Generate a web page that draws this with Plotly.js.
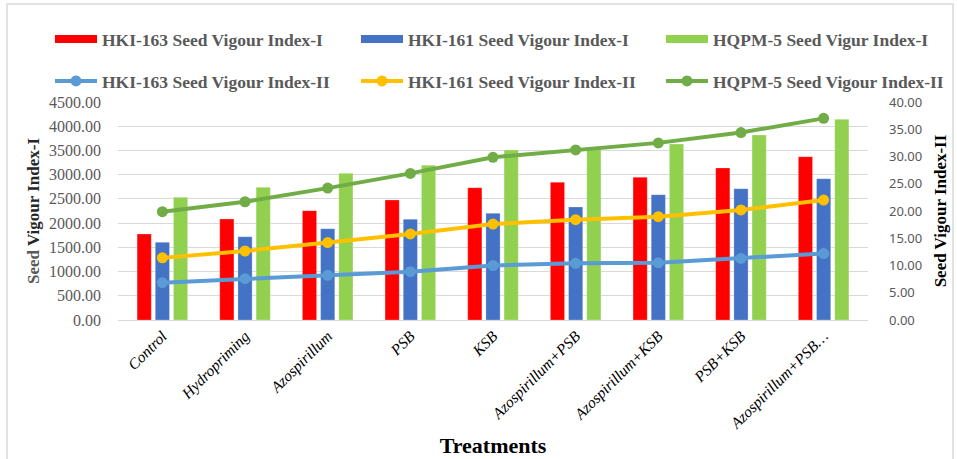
<!DOCTYPE html>
<html>
<head>
<meta charset="utf-8">
<script src="https://cdn.plot.ly/plotly-3.0.1.min.js"></script>
<style>html,body{margin:0;padding:0;background:#fff;}#chart{width:957px;height:459px;}</style>
</head>
<body>
<div id="chart"></div>
<script>
const treatments = ["Control","Hydropriming","Azospirillum","PSB","KSB","Azospirillum+PSB","Azospirillum+KSB","PSB+KSB","Azospirillum+PSB…"];
const hki163_I = [1775,2085,2257,2477,2731,2843,2946,3138,3371];
const hki161_I = [1604,1720,1885,2079,2202,2333,2587,2711,2917];
const hqpm5_I  = [2533,2740,3028,3194,3510,3545,3633,3819,4143];
const hki163_II = [6.85,7.58,8.2,8.87,10.0,10.4,10.5,11.3,12.2];
const hki161_II = [11.4,12.66,14.2,15.8,17.6,18.4,18.96,20.2,22.0];
const hqpm5_II  = [19.87,21.7,24.2,26.9,29.85,31.2,32.5,34.4,37.0];
const namesI = ["HKI-163 Seed Vigour Index-I","HKI-161 Seed Vigour Index-I","HQPM-5 Seed Vigur Index-I"];
const namesII = ["HKI-163 Seed Vigour Index-II","HKI-161 Seed Vigour Index-II","HQPM-5 Seed Vigour Index-II"];

const barColors = ["#FF0000","#4472C4","#92D050"];
const lineColors = ["#5B9BD5","#FFC000","#70AD47"];
const serif = "Liberation Serif, Times New Roman, serif";

const barData = [hki163_I, hki161_I, hqpm5_I];
const lineData = [hki163_II, hki161_II, hqpm5_II];
const legendIds = [['legend','legend2','legend3'],['legend4','legend5','legend6']];
const traces = [];
barData.forEach((d,i)=>{
  traces.push({type:'bar', x:treatments, y:d, name:namesI[i], marker:{color:barColors[i], line:{color:'rgba(255,255,255,0.5)', width:0.5}}, showlegend:false, hoverinfo:'y'});
});
// legend entries for bars (wide rectangle swatches)
barData.forEach((d,i)=>{
  traces.push({type:'scatter', mode:'lines', x:[null], y:[null], name:namesI[i], line:{color:barColors[i], width:8}, legend:legendIds[0][i], showlegend:true});
});
lineData.forEach((d,i)=>{
  traces.push({type:'scatter', mode:'lines+markers', x:treatments, y:d, yaxis:'y2', name:namesII[i], line:{color:lineColors[i], width:4}, marker:{color:lineColors[i], size:11}, legend:legendIds[1][i]});
});

const legendCommon = {orientation:'h', xref:'container', yref:'container', xanchor:'left', yanchor:'middle',
  itemwidth:42, font:{family:serif, size:17.5, color:'#595959', weight:'bold'},
  bgcolor:'rgba(0,0,0,0)', itemclick:false};
const colX = [50, 356, 661];
const rowY = [39, 81];

const layout = {
  width:957, height:459,
  margin:{l:118, r:89, t:102, b:139, autoexpand:false},
  paper_bgcolor:'#fff', plot_bgcolor:'#fff',
  barmode:'group', bargap:0.34, bargroupgap:0.22,
  showlegend:true,
  xaxis:{type:'category', automargin:false, tickangle:-45, tickfont:{family:serif, size:15.5, color:'#000', style:'italic'},
    showline:true, linecolor:'#d9d9d9', linewidth:1, ticks:'', showgrid:false,
    title:{text:'Treatments', font:{family:serif, size:22, color:'#000', weight:'bold'}, standoff:6}},
  yaxis:{range:[0,4500], automargin:false, dtick:500, tickformat:'.2f', tickfont:{family:serif, size:16, color:'#595959'},
    gridcolor:'#d9d9d9', gridwidth:1, zeroline:false, ticks:'', ticklabelstandoff:16,
    title:{text:'<span style="color:#595959">Seed</span> Vigour Index-I', font:{family:serif, size:17, color:'#262626', weight:'bold'}, standoff:5}},
  yaxis2:{range:[0,40], automargin:false, dtick:5, tickformat:'.2f', overlaying:'y', side:'right', showgrid:false, zeroline:false,
    tickfont:{family:'Noto Sans, sans-serif', size:13, color:'#595959'}, ticks:'', ticklabelstandoff:20,
    title:{text:'Seed Vigour Index-II', font:{family:serif, size:17, color:'#000', weight:'bold'}, standoff:12}},
  shapes:[{type:'rect', xref:'paper', yref:'paper', x0:(7-118)/750, x1:(953-118)/750, y0:(320-470)/218, y1:(320-4)/218,
    line:{color:'#d9d9d9', width:1.5}, fillcolor:'rgba(0,0,0,0)', layer:'below'}]
};
legendIds.forEach((row,r)=>row.forEach((id,c)=>{
  layout[id] = Object.assign({}, legendCommon, {x:colX[c]/957, y:1-rowY[r]/459});
}));
Plotly.newPlot('chart', traces, layout, {displayModeBar:false, staticPlot:true});
</script>
</body>
</html>
